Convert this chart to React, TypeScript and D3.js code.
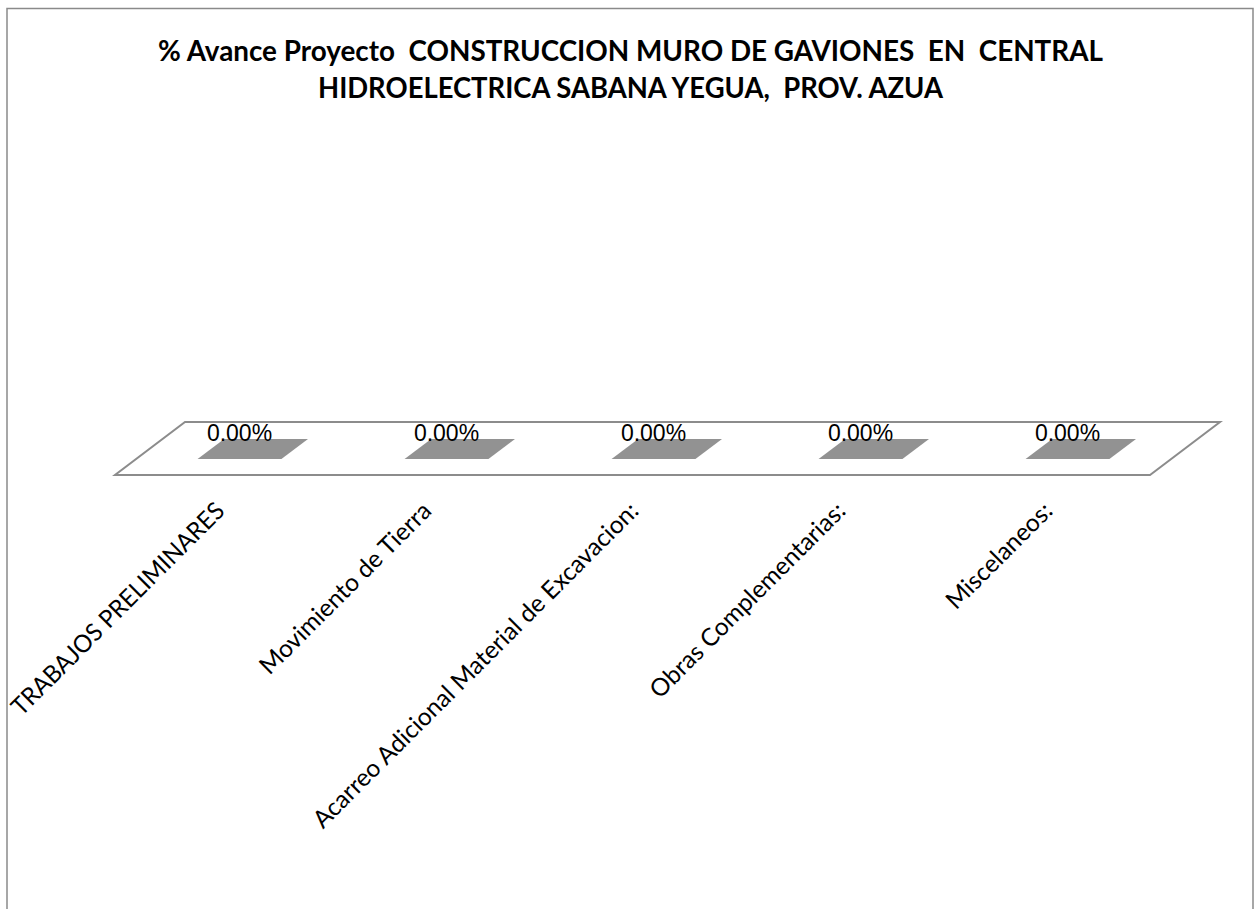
import React, { useLayoutEffect, useRef } from "react";
import * as d3 from "d3";

const categories: string[] = [
  "TRABAJOS PRELIMINARES",
  "Movimiento de Tierra",
  "Acarreo Adicional Material de Excavacion:",
  "Obras Complementarias:",
  "Miscelaneos:",
];
const avance: number[] = [0, 0, 0, 0, 0];
const titleLines: string[] = [
  "% Avance Proyecto  CONSTRUCCION MURO DE GAVIONES  EN  CENTRAL",
  "HIDROELECTRICA SABANA YEGUA,  PROV. AZUA",
];

const W = 1256;
const H = 909;
// floor geometry (front edge) and 3D depth vector
const floorLeft = 115;
const floorRight = 1150;
const floorFrontY = 475;
const depthX = 70;
const depthY = -53;
const barT1 = 0.3;
const barT2 = 0.68;
const labelFont = 24.5;
const labelMinX = 18;

export default function App() {
  const labelsRef = useRef<SVGGElement>(null);

  const x = d3
    .scaleBand<string>()
    .domain(categories)
    .range([floorLeft, floorRight])
    .paddingInner(0.595)
    .paddingOuter(0.2975);
  const y = d3.scaleLinear().domain([0, 1]).range([floorFrontY, 150]);
  const fmt = d3.format(".2%");

  const floorPts: [number, number][] = [
    [floorLeft, floorFrontY],
    [floorRight, floorFrontY],
    [floorRight + depthX, floorFrontY + depthY],
    [floorLeft + depthX, floorFrontY + depthY],
  ];
  const line = d3.line();
  const k = Math.SQRT1_2;

  // keep rotated labels inside the chart frame (fit long ones)
  useLayoutEffect(() => {
    if (!labelsRef.current) return;
    d3.select(labelsRef.current)
      .selectAll<SVGTextElement, unknown>("text")
      .each(function () {
        const cx = +(this.getAttribute("data-cx") || 0);
        const len = this.getComputedTextLength();
        const endX = cx + 0.72 * labelFont * k;
        const startX = endX - len * k - 0.2 * labelFont * k;
        if (startX < labelMinX) {
          const fit = (endX - labelMinX) / k - 0.2 * labelFont;
          this.setAttribute("textLength", String(fit));
          this.setAttribute("lengthAdjust", "spacingAndGlyphs");
        }
      });
  }, []);

  return (
    <svg
      width={W}
      height={H}
      style={{ position: "absolute", left: 0, top: 0, background: "#fff" }}
    >
      <rect x={0} y={0} width={W} height={H} fill="#fff" />
      {/* chart border */}
      <path
        d={`M7,${H + 5} L7,8.5 L1253,8.5 L1253,${H + 5}`}
        fill="none"
        stroke="#8a8a8a"
        strokeWidth={1.5}
      />
      {/* title */}
      <g
        fontFamily="Lato, 'Open Sans', sans-serif"
        fontWeight="bold"
        fontSize={28}
        fill="#000"
      >
        <text
          x={158}
          y={61}
          textLength={945}
          lengthAdjust="spacingAndGlyphs"
          xmlSpace="preserve"
          style={{ whiteSpace: "pre" }}
        >
          {titleLines[0]}
        </text>
        <text
          x={318}
          y={98}
          textLength={625}
          lengthAdjust="spacingAndGlyphs"
          xmlSpace="preserve"
          style={{ whiteSpace: "pre" }}
        >
          {titleLines[1]}
        </text>
      </g>
      {/* floor */}
      <path
        d={line(floorPts) + "Z"}
        fill="#fff"
        stroke="#8c8c8c"
        strokeWidth={2}
      />
      {/* bars (top faces) */}
      {categories.map((c, i) => {
        const x0 = x(c)!;
        const x1 = x0 + x.bandwidth();
        const yv = y(avance[i]);
        const pts: [number, number][] = [
          [x0 + depthX * barT1, yv + depthY * barT1],
          [x1 + depthX * barT1, yv + depthY * barT1],
          [x1 + depthX * barT2, yv + depthY * barT2],
          [x0 + depthX * barT2, yv + depthY * barT2],
        ];
        return <path key={c} d={line(pts) + "Z"} fill="#929292" stroke="none" />;
      })}
      {/* data labels */}
      {categories.map((c, i) => {
        const cx = x(c)! + x.bandwidth() / 2 + depthX * barT1;
        const yv = y(avance[i]) + depthY * barT2 + 2;
        return (
          <text
            key={"l" + c}
            x={cx}
            y={yv}
            textAnchor="middle"
            fontFamily="'Liberation Sans', Arial, sans-serif"
            fontSize={23}
            fill="#000"
          >
            {fmt(avance[i])}
          </text>
        );
      })}
      {/* category labels */}
      <g ref={labelsRef}>
        {categories.map((c) => {
          const cx = x(c)! + x.bandwidth() / 2 - 5;
          return (
            <text
              key={"c" + c}
              data-cx={cx}
              transform={`translate(${cx},500) rotate(-45)`}
              textAnchor="end"
              dy="0.72em"
              fontFamily="Lato, 'Open Sans', sans-serif"
              fontSize={labelFont}
              fill="#000"
            >
              {c}
            </text>
          );
        })}
      </g>
    </svg>
  );
}
